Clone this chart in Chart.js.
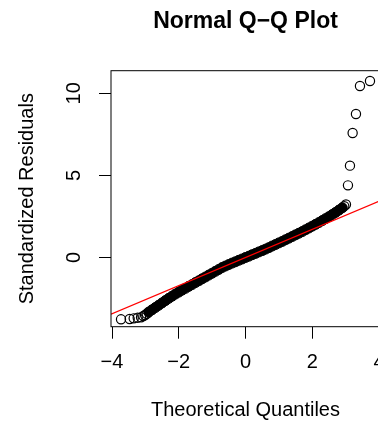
<!DOCTYPE html>
<html>
<head>
<meta charset="utf-8">
<title>Normal Q-Q Plot</title>
<script src="https://cdn.jsdelivr.net/npm/chart.js@4.4.1/dist/chart.umd.min.js"></script>
<style>
  html, body { margin: 0; padding: 0; background: #fff; overflow: hidden; }
  canvas { display: block; }
</style>
</head>
<body>
<canvas id="qqChart" width="400" height="421"></canvas>
<script>
//--- Data
var xTicks = [-4, -2, 0, 2, 4];
var yTicks = [0, 5, 10];

// dense middle part of the sample (theoretical vs standardized residuals)
var bandX = [-2.9, -2.8, -2.7, -2.6, -2.5, -2.4, -2.3, -2.2, -2.1, -2.0,
             -1.9, -1.8, -1.7, -1.6, -1.5, -1.4, -1.3, -1.2, -1.1, -1.0,
             -0.9, -0.8, -0.7, -0.6, -0.5, -0.4, -0.3, -0.2, -0.1, 0.0,
             0.1, 0.2, 0.3, 0.4, 0.5, 0.6, 0.7, 0.8, 0.9, 1.0,
             1.1, 1.2, 1.3, 1.4, 1.5, 1.6, 1.7, 1.8, 1.9, 2.0,
             2.1, 2.2, 2.3, 2.4, 2.5, 2.6, 2.7, 2.8, 2.9];
var bandY = [-3.34, -3.20, -3.06, -2.92, -2.78, -2.64, -2.50, -2.37, -2.24, -2.12,
             -2.00, -1.89, -1.77, -1.66, -1.54, -1.43, -1.31, -1.20, -1.08, -0.97,
             -0.85, -0.74, -0.62, -0.53, -0.44, -0.35, -0.27, -0.18, -0.10, -0.01,
             0.07, 0.16, 0.24, 0.33, 0.41, 0.50, 0.59, 0.69, 0.78, 0.88,
             0.97, 1.07, 1.17, 1.27, 1.37, 1.47, 1.57, 1.68, 1.79, 1.90,
             2.01, 2.12, 2.24, 2.36, 2.48, 2.61, 2.74, 2.88, 3.02];

// sparse points in both tails
var tailX = [-3.73, -3.47, -3.35, -3.23, -3.13, -3.06, -3.01, -2.96,
             2.96, 3.01, 3.07, 3.13, 3.21, 3.31, 3.43, 3.73];
var tailY = [-3.78, -3.76, -3.72, -3.68, -3.66, -3.58, -3.52, -3.44,
             3.12, 3.22, 4.39, 5.59, 7.58, 8.74, 10.45, 10.75];

// qqline
var lineX = [-4.03, 4.03];
var lineY = [-3.47, 3.45];

function toPoints(xs, ys) {
    return xs.map(function (x, i) { return { x: x, y: ys[i] }; });
}

function minusSign(v) {
    return String(v).replace('-', '\u2212');
}

//--- plot frame (right side runs off the page like the original)
var plotBox = {
    id: 'plotBox',
    afterDatasetsDraw: function (chart) {
        var a = chart.chartArea;
        var ctx = chart.ctx;
        ctx.save();
        ctx.strokeStyle = '#000';
        ctx.lineWidth = 1;
        ctx.strokeRect(a.left, a.top, a.right - a.left, a.bottom - a.top);
        ctx.restore();
    }
};

Chart.defaults.font.family = "'Liberation Sans', Arial, sans-serif";
Chart.defaults.color = '#000';

var ctx = document.getElementById('qqChart');
new Chart(ctx, {
    type: 'scatter',
    data: {
        datasets: [
            {
                type: 'line',
                data: toPoints(lineX, lineY),
                borderColor: '#ff0000',
                borderWidth: 1.3,
                pointRadius: 0,
                order: 0
            },
            {
                data: toPoints(bandX, bandY),
                borderColor: '#000',
                backgroundColor: '#000',
                pointRadius: 5,
                pointBorderWidth: 1,
                order: 1
            },
            {
                data: toPoints(tailX, tailY),
                borderColor: '#000',
                backgroundColor: 'rgba(0,0,0,0)',
                pointRadius: 4.6,
                pointBorderWidth: 1.2,
                order: 2
            }
        ]
    },
    options: {
        responsive: false,
        animation: false,
        layout: { padding: { left: 0, right: 20, top: 0, bottom: 0 } },
        plugins: {
            legend: { display: false },
            tooltip: { enabled: false },
            title: {
                display: true,
                text: 'Normal Q\u2212Q Plot',
                fullSize: false,
                font: { size: 23, weight: 'bold' },
                padding: { top: 7.4, bottom: 35.7 }
            }
        },
        scales: {
            x: {
                type: 'linear',
                min: -4.03,
                max: 4.03,
                border: { display: false },
                grid: { drawOnChartArea: false, drawTicks: true, tickLength: 12, color: '#000' },
                afterBuildTicks: function (s) {
                    s.ticks = xTicks.map(function (v) { return { value: v }; });
                },
                afterFit: function (s) { s.height = 94.3; },
                ticks: {
                    autoSkip: false,
                    maxRotation: 0,
                    padding: 12,
                    font: { size: 20 },
                    callback: function (v) { return minusSign(v); }
                },
                title: {
                    display: true,
                    text: 'Theoretical Quantiles',
                    font: { size: 20, lineHeight: 1 },
                    padding: { top: 0, bottom: 1 }
                }
            },
            y: {
                type: 'linear',
                min: -4.23,
                max: 11.38,
                border: { display: false },
                grid: { drawOnChartArea: false, drawTicks: true, tickLength: 12, color: '#000' },
                afterBuildTicks: function (s) {
                    s.ticks = yTicks.map(function (v) { return { value: v }; });
                },
                afterFit: function (s) { s.width = 111; },
                ticks: {
                    autoSkip: false,
                    minRotation: 90,
                    maxRotation: 90,
                    crossAlign: 'center',
                    padding: 13,
                    font: { size: 20 },
                    callback: function (v) { return minusSign(v); }
                },
                title: {
                    display: true,
                    text: 'Standardized Residuals',
                    font: { size: 20 },
                    padding: { top: 15.5, bottom: 0 }
                }
            }
        }
    },
    plugins: [plotBox]
});
console.log('chart drawn');
</script>
</body>
</html>
